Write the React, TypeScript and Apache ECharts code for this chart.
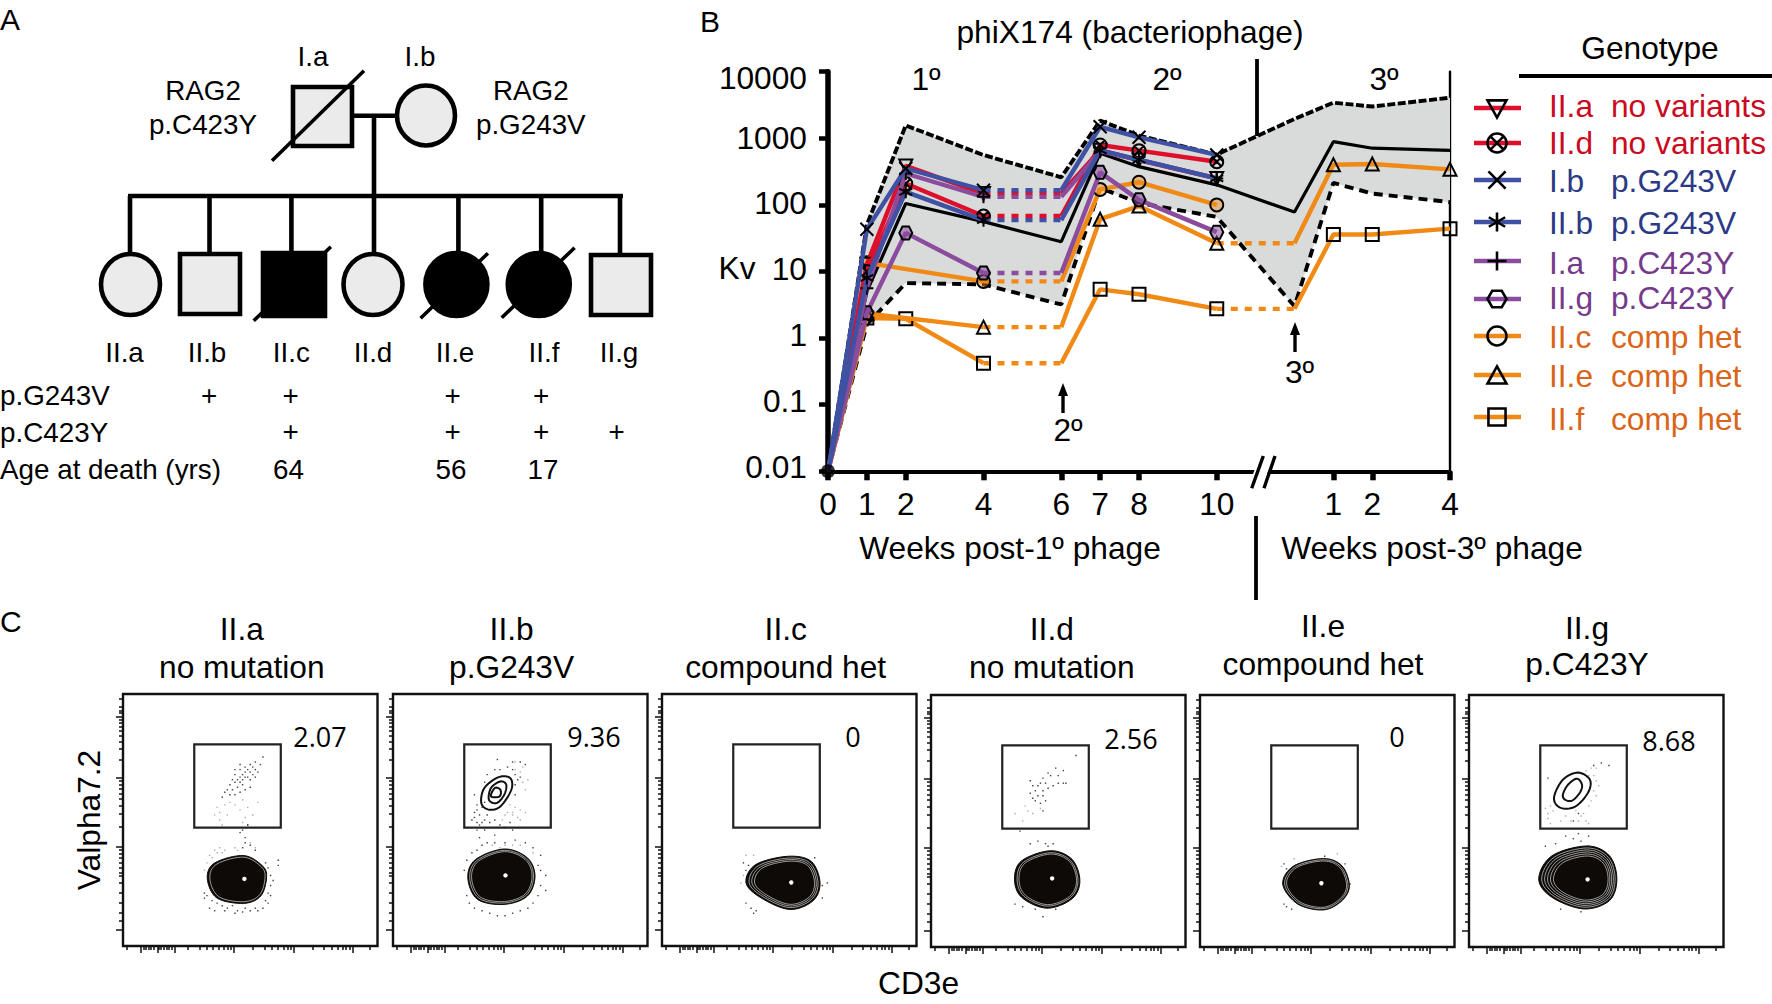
import React, { useEffect, useRef } from "react";
import * as echarts from "echarts";

const FONT = '"Liberation Sans", Arial, sans-serif';
const RED = "#dd0f2b", BLUE = "#3f51a3", PURPLE = "#8b4c9e", ORANGE = "#f08a15";
const RED_T = "#c90a22", BLUE_T = "#2b3a86", PURPLE_T = "#763a8c", ORANGE_T = "#da6518";
const SIZE = 31.7;

// ---- Panel B data: [week, Kv]
const upperBound = [[0,0.01],[1,50],[2,1560],[4,560],[6,260],[7,1840],[8,1100],[10,570],[12,1950],[13,3430],[14,3000],[16,4070]];
const lowerBound = [[0,0.01],[1,1.6],[2,6.7],[4,6.4],[6,3.2],[7,180],[8,107],[10,66],[12,3],[13,214],[14,148],[16,110]];
const meanLine = [[0,0.01],[1,5],[2,105],[4,56],[6,28],[7,595],[8,375],[10,200],[12,78],[13,890],[14,710],[16,660]];
const IIa = [[0,0.01],[1,12.9],[2,385],[4,148],[6,148],[7,664],[8,472],[10,250]];
const IId = [[0,0.01],[1,10],[2,209],[4,68],[6,68],[7,794],[8,652],[10,445]];
const Ib = [[0,0.01],[1,43],[2,352],[4,166],[6,166],[7,1490],[8,1035],[10,562]];
const IIb = [[0,0.01],[1,8],[2,157],[4,59],[6,59],[7,660],[8,480],[10,250]];
const Ia = [[0,0.01],[1,5.6],[2,296],[4,132],[6,132],[7,640],[8,470],[10,250]];
const IIg = [[0,0.01],[1,2.4],[2,38],[4,9.5],[6,9.5],[7,308],[8,119],[10,39]];
const IIc = [[0,0.01],[1,13.5],[4,7.1],[6,7.1],[7,171],[8,219],[10,100]];
const IIe = [[0,0.01],[1,2.34],[4,1.46],[6,1.46],[7,61],[8,96],[10,26.5],[12,26.5],[13,400],[14,411],[16,342]];
const IIf = [[0,0.01],[1,2],[2,1.95],[4,0.42],[6,0.42],[7,5.4],[8,4.55],[10,2.75],[12,2.75],[13,36],[14,36],[16,44]];
const xTickValues = [0,1,2,4,6,7,8,10,13,14,16];
const xTickLabels = ["0","1","2","4","6","7","8","10","1","2","4"];
const yTickLabels = ["10000","1000","100","10","1","0.1","0.01"];
const yTickLabelY = [78,137.9,203.4,269,334.5,401,466.7];

const MARKERS: Record<string,string> = {
  triDown: "M0 1L10 1L5 10Z",
  crossO: "M0 5A5 5 0 1 1 10 5A5 5 0 1 1 0 5ZM1.5 1.5L8.5 8.5M8.5 1.5L1.5 8.5",
  cross: "M0.5 0.5L9.5 9.5M9.5 0.5L0.5 9.5",
  star: "M5 0L5 10M0.7 2.5L9.3 7.5M9.3 2.5L0.7 7.5",
  plus: "M5 0L5 10M0 5L10 5",
  hex: "M2.5 0.7L7.5 0.7L10 5L7.5 9.3L2.5 9.3L0 5Z",
  circle: "M0 5A5 5 0 1 1 10 5A5 5 0 1 1 0 5Z",
  tri: "M5 0.5L10 9.5L0 9.5Z",
  square: "M0.5 0.5L9.5 0.5L9.5 9.5L0.5 9.5Z",
};
Object.keys(MARKERS).forEach((k) => echarts.graphic.registerShape("mk_" + k, echarts.graphic.extendPath(MARKERS[k], {}) as any));

const CLEAR = "rgba(0,0,0,0)";
const patients = [
  { id: "II.f", data: IIf, color: ORANGE, marker: "square", size: 13, fill: CLEAR },
  { id: "II.e", data: IIe, color: ORANGE, marker: "tri", size: 13, fill: CLEAR },
  { id: "II.c", data: IIc, color: ORANGE, marker: "circle", size: 13, fill: "rgba(240,138,21,0.45)" },
  { id: "II.g", data: IIg, color: PURPLE, marker: "hex", size: 13, fill: "rgba(139,76,158,0.55)" },
  { id: "II.a", data: IIa, color: RED, marker: "triDown", size: 13, fill: CLEAR },
  { id: "II.d", data: IId, color: RED, marker: "crossO", size: 13, fill: CLEAR },
  { id: "I.a", data: Ia, color: PURPLE, marker: "plus", size: 13, fill: CLEAR },
  { id: "II.b", data: IIb, color: BLUE, marker: "star", size: 13, fill: CLEAR },
  { id: "I.b", data: Ib, color: BLUE, marker: "cross", size: 13, fill: CLEAR },
];

// legend rows
const legendNames = ["II.a","II.d","I.b","II.b","I.a","II.g","II.c","II.e","II.f"];
const legendGenotypes = ["no variants","no variants","p.G243V","p.G243V","p.C423Y","p.C423Y","comp het","comp het","comp het"];
const legendMarkers = ["triDown","crossO","cross","star","plus","hex","circle","tri","square"];
const legendLineColors = [RED,RED,BLUE,BLUE,PURPLE,PURPLE,ORANGE,ORANGE,ORANGE];
const legendTextColors = [RED_T,RED_T,BLUE_T,BLUE_T,PURPLE_T,PURPLE_T,ORANGE_T,ORANGE_T,ORANGE_T];
const legendLineY = [108,143,180,222,261,299,336,375,417];
const legendTextY = [106,142.5,181,223,263,298,336.5,376,419];

// ---- Panel C data (axis units 0-100)
const gateX = [28,62];
const gateY = [47,80];
const yMajor = [6.6,39.3,66.6,90.8];
const yMinor = [10,13,17,21,25,28,29,31,33,35,36.8,38,47.5,52.3,55.7,58.4,60.5,62.4,64,65.4,73.9,78.1,81.2,83.5,85.4,87.1,88.5,89.7,92.5,93.5,95,98];
const xMajor = [6.8,13.5,20.3,43.6,67.2,90.2];
const xMinor = [1.5,8,9,10,11,12,14,15,16,17,18,19,25.6,30,33,35.3,37.6,39.5,41.3,42.5,51,55.6,58.6,60.9,63.2,64.7,65.9,74.4,79,82,84.2,86.2,87.7,89,97];

const panelTitles1 = ["II.a","II.b","II.c","II.d","II.e","II.g"];
const panelTitles2 = ["no mutation","p.G243V","compound het","no mutation","compound het","p.C423Y"];
const panelValues = ["2.07","9.36","0","2.56","0","8.68"];

const blobOutlines = [
  [[33.1,27],[36.1,33],[47.4,35.9],[54.9,31.7],[56.4,27],[54.1,19.8],[47.4,16.9],[36.8,19.1]],
  [[29.4,27],[32.4,34.3],[43.7,38.5],[52.8,35],[55.8,27.7],[52.8,19.8],[43.7,16.5],[33.2,18.5]],
  [[33,25.1],[36.8,32.3],[49.4,35.6],[58.6,33.6],[62.1,25.1],[59.3,17.9],[50.1,14.5],[38.9,19.1]],
  [[32.8,27],[35.6,34.2],[46.9,38.2],[55.4,34.8],[58.5,26.3],[55.4,19.1],[45.5,15.4],[35.6,19.7]],
  [[32.5,25],[36.9,32.2],[48.5,35.1],[55.8,32.2],[58.7,24.3],[55.8,18.4],[48.5,14.7],[38.3,17.1]],
  [[27.4,27],[32.6,36.2],[46.4,40.1],[55.2,36.2],[58.1,27],[55.2,18.4],[45,15.1],[32.6,19.7]],
];
const blobCenters = [[47.7,26.6],[44.2,28],[50.8,25.2],[47.6,27.2],[47.7,25.3],[46.6,26.8]];
const blobRings = [[0.93],[0.95,0.9],[0.93,0.87,0.81],[0.93,0.88],[0.95,0.9],[0.94,0.88,0.82,0.76,0.7]];
const gateContours = [
  [],
  [
    [[34.7,56.7],[35.9,62.7],[41.5,67],[46.1,66.6],[46.5,62],[42.2,55.4],[37.7,54.1]],
    [[37.7,58],[38.5,62.7],[42.2,65.3],[44.5,64],[43.7,60],[40.7,56.7]],
    [[38.5,59.4],[40,62.7],[42.2,62],[41.9,59.4]],
  ],
  [],
  [],
  [],
  [
    [[33.4,59.3],[36.9,66.4],[42.8,69.2],[47.5,66.4],[46.8,61.3],[41.7,55.7],[35.8,55.3]],
    [[36.9,60.5],[38.9,64.4],[42.4,66.8],[44.4,64.4],[43.6,61.3],[40.5,58.1],[37.7,58.5]],
  ],
];
const darkDots = [
  [[46,70],[48,71],[50,72],[52,73],[55,75],[54,72],[52,70],[50,69],[48,69],[46,67],[47,66],[44,65],[45,63],[43,62],[42,64],[44,68],[49,67],[50,66],[51,68],[47,64],[48,62],[46,61],[44,60],[42,60],[41,62],[45,66],[43,66],[49,70],[51,71],[53,69],[50,63],[46,65],[47,68],[52,67],[40,61],[39,59],[46,72],[48,67],[44,70],
   [33,20],[35,18],[37,17],[39,16],[41,15],[43,16],[45,14],[48,15],[50,14],[52,15],[55,15],[56,18],[57,21],[58,24],[58,28],[57,31],[56,33],[34,15],[36,14],[40,14],[44,13],[47,13.5],[53,14],[32,21],[32,19],[57,17],[58,20],[59,26],[52,38],[50,40],[47,39],[48,41],[61,34],[61,32],[49,48],[46,45],[48,43],[47,46]],
  [[31,50],[32,53],[33,49],[34,48],[33,56],[32,60],[34,52],[36,50],[38,49],[40,50],[37,52],[35,55],[42,48],[44,47],[46,49],[36,65],[37,68],[40,70],[42,70],[45,71],[47,70],[48,68],[49,66],[48,64],[48,60],[50,67],[52,72],[50,73],[47,73],[41,74],[33,54],[32,51],[35,49],[36,57],
   [29,20],[30,17],[32,15],[35,14],[38,13],[41,12],[44,12],[47,13],[50,14],[53,15],[55,17],[57,20],[58,24],[58,30],[57,32],[60,28],[60,22],[58,36],[55,39],[52,41],[48,42],[44,41],[40,41],[37,41],[35,40],[33,38],[31,37],[29,34],[28,30],[40,44],[33,46],[34,43],[36,46],[47,46]],
  [[34,32],[33,30],[32,33],[33,17],[35,15],[36,13],[37,14],[60,35],[63,24],[65,25],[63,19]],
  [[57,76],[52,70],[50,68],[49,71],[47,68],[46,69],[44,67],[45,65],[43,65],[42,64],[41,62],[44,62],[46,63],[48,64],[50,65],[52,65],[53,65],[40,64],[39,61],[42,60],[44,60],[45,58],[43,57],[41,58],[39,66],[40,59],[44,54],
   [42,42],[39,41],[45,41],[46,40],[48,41],[33,17],[36,16],[41,15],[44,12],[49,15],[35,46]],
  [[33,33],[34,31],[33,17],[34,16],[36,15],[49,36],[57,33],[59,25]],
  [[52,73],[55,72],[49,72],[31,67],[43,45],[44,42],[38,44],[41,43],[47,44],[41,50],[47,40],[43,53],[30,40],[34,41],[36,15],[44,14]],
];
const grayDots = [
  [[37,55],[38,53],[36,52],[40,56],[42,57],[44,56],[47,58],[49,55],[38,50],[41,52],[46,54],[47,49],[49,48],[48,51],[53,57],[51,52],[39,48],
   [36,38],[34,36],[33,33],[32,30],[38,39],[40,38],[39,37],[37,37],[35,35],[44,39],[45,38],[50,41],[52,39]],
  [[45,53],[47,52],[49,51],[50,54],[48,55],[52,53],[46,56],[44,52],[43,50],[48,73],[51,71],[53,66],[52,62],[50,69],[51,65],[48,70],[47,53],[50,50],
   [42,39],[44,40],[47,40],[50,40],[39,40],[55,37]],
  [[32,28],[31,25],[33,36],[36,36]],
  [[36,50],[33,53],[38,54],[40,53],[37,56],[43,55]],
  [[32,32],[37,35],[54,37]],
  [[30,55],[31,53],[32,56],[33,54],[31,51],[32,49],[42,54],[44,52],[46,50],[43,50],[45,53],[47,49],[40,50],[38,52],[36,50],[46,70],[48,71],[49,68],[50,66],[51,64],[49,62],[50,60],[48,58],[47,56],[50,71],[47,68]],
];

// panel rects in page pixels
const panelLeft = [123,393,662,931,1200,1469];
const panelTop = [694,694,694,695,695,695];
const panelTopTitleY = [[628.5,666.5],[628.5,666.5],[629,666.7],[629,667],[626,664],[628,664]];
const panelTitleX = [241.8,511.6,785.7,1051.8,1323,1587];
const panelValueXY = [[320,736],[594,736],[853,736],[1131,738],[1397,736],[1669,740]];
const PANEL_W = 254.5, PANEL_H = 252;

// ---- Panel A
const pedSquares = [
  { x: 293, y: 87, w: 59, h: 59, fill: "#ebebeb" },
  { x: 180, y: 254, w: 60, h: 60, fill: "#ebebeb" },
  { x: 263, y: 253, w: 62, h: 63, fill: "#000" },
  { x: 591, y: 255, w: 60, h: 60, fill: "#ebebeb" },
];
const pedCircles = [
  { cx: 426, cy: 115.5, rx: 29, ry: 30, fill: "#ebebeb" },
  { cx: 130.5, cy: 284.5, rx: 29.5, ry: 30.5, fill: "#ebebeb" },
  { cx: 373, cy: 284.5, rx: 29.5, ry: 30.5, fill: "#ebebeb" },
  { cx: 456.4, cy: 284.5, rx: 31, ry: 31.5, fill: "#000" },
  { cx: 538.8, cy: 284.5, rx: 31, ry: 31.5, fill: "#000" },
];
const pedLines = [
  [352,115.7,396,115.7],[374,115.7,374,196],[128,196,623,196],
  [130,196,130,254],[209.5,196,209.5,254],[291.4,196,291.4,254],[374,196,374,254],[458.4,196,458.4,254],[541.2,196,541.2,254],[620,196,620,254],
];
const pedSlashes = [[272,160.7,364,70.7],[253.7,320.7,330.9,246.7],[420.6,318.3,487.9,253.3],[501.7,317.7,574.6,247.7]];
const pedTexts: [string,number,number][] = [
  ["I.a",313,56.7],["I.b",420,56.7],["RAG2",203,90.7],["p.C423Y",203,124],["RAG2",530.8,90.7],["p.G243V",530.8,124],
  ["II.a",124.5,352],["II.b",207,352],["II.c",291.4,352],["II.d",373,352],["II.e",455,352],["II.f",544,352],["II.g",619,352],
  ["+",209,395.5],["+",290.5,395.5],["+",452.7,395.5],["+",541,395.5],
  ["+",290.5,431.5],["+",452.7,431.5],["+",541,431.5],["+",616.7,431.5],
  ["64",288.4,469.7],["56",451,469.7],["17",543,469.7],
];
const pedRowLabels: [string,number][] = [["p.G243V",395.7],["p.C423Y",432],["Age at death (yrs)",469.7]];

function txt(text: string, x: number, y: number, size = SIZE, align = "center", fill = "#000", family = FONT, extra: any = {}) {
  return { type: "text", z: 50, x, y, ...extra, style: { text, x: 0, y: 0, font: `${size}px ${family}`, fill, align, verticalAlign: "middle" } };
}
function seg(x1: number, y1: number, x2: number, y2: number, lineWidth: number, stroke = "#000") {
  return { type: "line", z: 50, shape: { x1, y1, x2, y2 }, style: { stroke, lineWidth } };
}
function arrow(x: number, y1: number, y2: number) {
  return [
    seg(x, y1 + 8, x, y2, 3.4),
    { type: "polygon", z: 50, shape: { points: [[x, y1], [x - 5, y1 + 13], [x + 5, y1 + 13]] }, style: { fill: "#000" } },
  ];
}
// Rounds a closed outline of read-off points into a smooth curve (closed Catmull-Rom).
function roundOutline(pts: number[][]) {
  const out: number[][] = [];
  const n = pts.length;
  for (let i = 0; i < n; i++) {
    const p0 = pts[(i + n - 1) % n], p1 = pts[i], p2 = pts[(i + 1) % n], p3 = pts[(i + 2) % n];
    for (let k = 0; k < 8; k++) {
      const t = k / 8, t2 = t * t, t3 = t2 * t;
      out.push([0, 1].map((d) => 0.5 * (2 * p1[d] + (p2[d] - p0[d]) * t + (2 * p0[d] - 5 * p1[d] + 4 * p2[d] - p3[d]) * t2 + (3 * p1[d] - p0[d] - 3 * p2[d] + p3[d]) * t3)));
    }
  }
  return out;
}

function buildGraphic() {
  const els: any[] = [];
  els.push(txt("A", 0, 19, 30, "left"), txt("B", 700, 21, 30, "left"), txt("C", 0, 621, 30, "left"));
  pedLines.forEach((l) => els.push(seg(l[0], l[1], l[2], l[3], 4.6)));
  pedSquares.forEach((s) => els.push({ type: "rect", z: 50, shape: { x: s.x, y: s.y, width: s.w, height: s.h }, style: { fill: s.fill, stroke: "#000", lineWidth: 4.6 } }));
  pedCircles.forEach((c) => els.push({ type: "ellipse", z: 50, shape: { cx: c.cx, cy: c.cy, rx: c.rx, ry: c.ry }, style: { fill: c.fill, stroke: "#000", lineWidth: 4.6 } }));
  pedSlashes.forEach((l) => els.push(seg(l[0], l[1], l[2], l[3], 3.6)));
  pedTexts.forEach((t) => els.push(txt(t[0], t[1], t[2], 27.8)));
  pedRowLabels.forEach((t) => els.push(txt(t[0], 0, t[1], 27.8, "left")));
  // panel B annotations
  els.push(txt("phiX174 (bacteriophage)", 1130, 32));
  els.push(txt("1º", 926, 78.5), txt("2º", 1167, 78.5), txt("3º", 1384, 78.5));
  els.push(txt("Kv", 737, 268));
  yTickLabels.forEach((t, i) => els.push(txt(t, 807, yTickLabelY[i], SIZE, "right")));
  els.push(txt("2º", 1068, 430), txt("3º", 1299.5, 372));
  els.push(...arrow(1063, 383, 413), ...arrow(1295, 322, 352));
  els.push(txt("Weeks post-1º phage", 1010, 548), txt("Weeks post-3º phage", 1432, 548));
  els.push(seg(1257, 59, 1257, 136, 3.8), seg(1256, 516, 1256, 600, 3.8));
  els.push({ type: "polygon", z: 50, shape: { points: [[1256, 466], [1270, 466], [1266, 477], [1252, 477]] }, style: { fill: "#fff" } });
  els.push(seg(1251.7, 488.3, 1263.3, 456, 3.4), seg(1264, 488.3, 1275, 456, 3.4));
  // legend
  els.push(txt("Genotype", 1650, 47.5));
  els.push(seg(1519, 76, 1772, 76, 4));
  legendNames.forEach((name, i) => {
    els.push(seg(1474, legendLineY[i], 1521, legendLineY[i], 4.4, legendLineColors[i]));
    els.push({
      type: "mk_" + legendMarkers[i], z: 51, x: 1497 - 9.5, y: legendLineY[i] - 9.5, scaleX: 1.9, scaleY: 1.9,
      style: { fill: "none", stroke: "#000", lineWidth: 1.35 },
    });
    els.push(txt(name, 1549, legendTextY[i], SIZE, "left", legendTextColors[i]));
    els.push(txt(legendGenotypes[i], 1611, legendTextY[i], SIZE, "left", legendTextColors[i]));
  });
  // panel C labels
  panelTitles1.forEach((t, i) => {
    els.push(txt(t, panelTitleX[i], panelTopTitleY[i][0]));
    els.push(txt(panelTitles2[i], panelTitleX[i], panelTopTitleY[i][1]));
    els.push(txt(panelValues[i], panelValueXY[i][0], panelValueXY[i][1], 27, "center", "#000", '"Open Sans", sans-serif'));
  });
  els.push(txt("Valpha7.2", 88.7, 820, SIZE, "center", "#000", FONT, { rotation: Math.PI / 2 }));
  els.push(txt("CD3e", 918.6, 983));
  return els;
}

function buildOption() {
  const grid: any[] = [{ left: 828, top: 71.7, width: 622, height: 399.6 }];
  const xAxis: any[] = [{
    type: "value", gridIndex: 0, min: 0, max: 16, splitLine: { show: false },
    axisLine: { show: true, onZero: false, lineStyle: { color: "#000", width: 4 } },
    axisTick: { show: true, customValues: xTickValues, length: 9, lineStyle: { color: "#000", width: 5.5 } },
    axisLabel: {
      show: true, customValues: xTickValues, margin: 17, fontSize: SIZE, fontFamily: FONT, color: "#000",
      formatter: (v: number) => xTickLabels[xTickValues.indexOf(v)],
    },
  }];
  const yAxis: any[] = [
    {
      type: "log", logBase: 10, gridIndex: 0, min: 0.01, max: 10000, splitNumber: 6, splitLine: { show: false }, minorTick: { show: false },
      axisLine: { show: true, onZero: false, lineStyle: { color: "#000", width: 5.5 } },
      axisTick: { show: true, length: 9, lineStyle: { color: "#000", width: 4.5 } },
      axisLabel: { show: false },
    },
    {
      type: "log", logBase: 10, gridIndex: 0, min: 0.01, max: 10000, position: "right", splitLine: { show: false },
      axisLine: { show: true, onZero: false, lineStyle: { color: "#000", width: 2.4 } }, axisTick: { show: false }, axisLabel: { show: false },
    },
  ];
  const series: any[] = [];

  // band
  series.push({
    type: "custom", coordinateSystem: "cartesian2d", xAxisIndex: 0, yAxisIndex: 0, z: 1, silent: true, clip: false,
    data: [[0, 0.01]],
    renderItem: (_p: any, api: any) => ({
      type: "polygon",
      shape: { points: [...upperBound, ...[...lowerBound].reverse()].map((d) => api.coord(d)) },
      style: { fill: "#d9dada" },
    }),
  });
  const blackLine = (name: string, data: number[][], dash: any, width: number) => ({
    type: "line", name, data, xAxisIndex: 0, yAxisIndex: 0, z: 2, showSymbol: false, symbol: "none", clip: false, silent: true,
    lineStyle: { color: "#000", width, type: dash },
  });
  series.push(blackLine("upper", upperBound, [8, 2.5], 3.9));
  series.push(blackLine("lower", lowerBound, [9, 6], 3.9));
  series.push(blackLine("mean", meanLine, "solid", 3.2));

  patients.forEach((p, idx) => {
    const runs: number[][][] = [];
    const dashes: number[][][] = [];
    let cur: number[][] = [];
    p.data.forEach((pt, i) => {
      const prev = p.data[i - 1];
      if (prev && ((prev[0] === 4 && pt[0] === 6) || (prev[0] === 10 && pt[0] === 12))) {
        runs.push(cur);
        dashes.push([prev, pt]);
        cur = [pt];
      } else {
        cur.push(pt);
      }
    });
    runs.push(cur);
    dashes.forEach((d) => series.push({
      type: "line", name: p.id + " untreated", data: d, xAxisIndex: 0, yAxisIndex: 0, z: 3 + idx, symbol: "none", clip: false, silent: true,
      lineStyle: { color: p.color, width: 4.4, type: [7, 7] },
    }));
    runs.forEach((r) => series.push({
      type: "line", name: p.id, xAxisIndex: 0, yAxisIndex: 0, z: 3 + idx, clip: false, silent: true, showAllSymbol: true,
      symbol: "path://" + MARKERS[p.marker], symbolSize: p.size,
      data: r.map((pt) => {
        const noMark = pt[0] === 0 || pt[0] === 6 || pt[0] === 12;
        return noMark ? { value: pt, symbol: "none" } : { value: pt };
      }),
      lineStyle: { color: p.color, width: 4.4 },
      itemStyle: { color: p.fill, borderColor: "#000", borderWidth: 2, opacity: 1 },
    }));
  });
  series.push({
    type: "scatter", name: "origin", data: [[0, 0.01]], xAxisIndex: 0, yAxisIndex: 0, z: 20, clip: false, silent: true,
    symbol: "circle", symbolSize: 14, itemStyle: { color: "#000" },
  });

  // Panel C
  panelLeft.forEach((left, i) => {
    const g = i + 1;
    grid.push({ left, top: panelTop[i], width: PANEL_W, height: PANEL_H, show: true, borderColor: "#111", borderWidth: 2.4, backgroundColor: "transparent" });
    const xBase = { type: "value", gridIndex: g, min: 0, max: 100, position: "bottom", splitLine: { show: false }, axisLabel: { show: false } };
    const yBase = { type: "value", gridIndex: g, min: 0, max: 100, position: "left", splitLine: { show: false }, axisLabel: { show: false } };
    const lineOff = { show: false, onZero: false };
    const xMain = xAxis.length;
    xAxis.push({ ...xBase, axisLine: lineOff, axisTick: { show: true, customValues: xMajor, length: 7, lineStyle: { color: "#111", width: 1.5 } } });
    xAxis.push({ ...xBase, axisLine: lineOff, axisTick: { show: true, customValues: xMinor, length: 4, lineStyle: { color: "#111", width: 1.5 } } });
    const yMain = yAxis.length;
    yAxis.push({ ...yBase, axisLine: lineOff, axisTick: { show: true, customValues: yMajor, length: 7, lineStyle: { color: "#111", width: 1.5 } } });
    yAxis.push({ ...yBase, axisLine: lineOff, axisTick: { show: true, customValues: yMinor, length: 4, lineStyle: { color: "#111", width: 1.5 } } });
    const on = { xAxisIndex: xMain, yAxisIndex: yMain, silent: true };
    series.push({ type: "scatter", ...on, z: 2, data: grayDots[i], symbol: "rect", symbolSize: 1.4, itemStyle: { color: "#9a9a9a" } });
    series.push({ type: "scatter", ...on, z: 2, data: darkDots[i], symbol: "rect", symbolSize: 1.4, itemStyle: { color: "#111" } });
    series.push({
      type: "custom", coordinateSystem: "cartesian2d", ...on, z: 4, clip: false, data: [[gateX[0], gateY[0]]],
      renderItem: (_p: any, api: any) => {
        const corner = [[gateX[0], gateY[0]], [gateX[1], gateY[0]], [gateX[1], gateY[1]], [gateX[0], gateY[1]]];
        const center = blobCenters[i];
        const outline = blobOutlines[i];
        const ring = (s: number) => roundOutline(outline.map((p) => api.coord([center[0] + (p[0] - center[0]) * s, center[1] + (p[1] - center[1]) * s])));
        const c = api.coord(center);
        const children: any[] = [
          { type: "polygon", shape: { points: corner.map((d) => api.coord(d)) }, style: { fill: "none", stroke: "#222", lineWidth: 2.2 } },
          { type: "polygon", shape: { points: ring(1) }, style: { fill: "#0d0a07", stroke: "#0d0a07", lineWidth: 1 } },
        ];
        blobRings[i].forEach((s) => children.push({ type: "polygon", shape: { points: ring(s) }, style: { fill: "none", stroke: "#d8d8d8", lineWidth: 0.7 } }));
        children.push({ type: "circle", shape: { cx: c[0], cy: c[1], r: 2.2 }, style: { fill: "#fff" } });
        gateContours[i].forEach((pts) => children.push({
          type: "polygon", shape: { points: roundOutline(pts.map((d) => api.coord(d))) }, style: { fill: "none", stroke: "#111", lineWidth: 2 },
        }));
        return { type: "group", children };
      },
    });
  });

  return { animation: false, backgroundColor: "#fff", grid, xAxis, yAxis, series, graphic: { elements: buildGraphic() } };
}

export default function App() {
  const ref = useRef<HTMLDivElement>(null);
  useEffect(() => {
    const chart = echarts.init(ref.current!, undefined, { renderer: "svg" });
    chart.setOption(buildOption() as any);
    return () => chart.dispose();
  }, []);
  return <div ref={ref} style={{ position: "absolute", left: 0, top: 0, width: 1772, height: 1004 }} />;
}
